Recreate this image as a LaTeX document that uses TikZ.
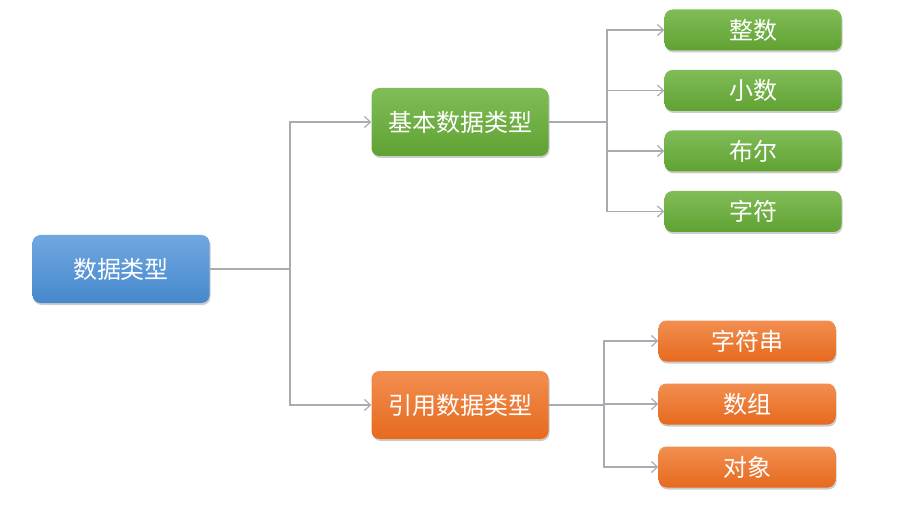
\documentclass[tikz,border=0pt]{standalone}
\usepackage{fontspec}
\newfontfamily\cjk{Noto Sans CJK SC}
\usepackage{tikz}
\usetikzlibrary{arrows.meta,shadows,positioning,calc}

\definecolor{bluetop}{RGB}{112,168,224}
\definecolor{bluebot}{RGB}{70,136,204}
\definecolor{greentop}{RGB}{128,188,88}
\definecolor{greenbot}{RGB}{96,162,50}
\definecolor{orangetop}{RGB}{242,142,80}
\definecolor{orangebot}{RGB}{230,106,30}
\definecolor{linegray}{RGB}{168,172,178}

\begin{document}
\begin{tikzpicture}[->,>={Straight Barb[length=6pt,width=11pt]},
x=1pt, y=1pt, node distance=60.5pt,
font=\cjk\fontsize{24}{28}\selectfont]

\tikzstyle{box}=[rectangle, rounded corners=8pt, text=white, draw=none,
drop shadow={shadow xshift=1pt, shadow yshift=-2pt, opacity=0.4}]
\tikzstyle{bigbox}=[box, minimum width=177pt, minimum height=68pt]
\tikzstyle{leafbox}=[box, minimum width=177pt, minimum height=41pt]
\tikzstyle{link}=[draw=linegray, line width=1.2pt]

\useasboundingbox (0,0) rectangle (898,-508);

%root
\node[bigbox, top color=bluetop, bottom color=bluebot]
(cdata) at (121,-269)
{数据类型};

\node[bigbox, top color=greentop, bottom color=greenbot]
(cbasic) at (460,-122)
{基本数据类型};

\node[bigbox, top color=orangetop, bottom color=orangebot]
(cref) at (460,-405)
{引用数据类型};

%basic types
\node[leafbox, top color=greentop, bottom color=greenbot]
(cint) at (753,-30)
{整数};

\node[leafbox, top color=greentop, bottom color=greenbot]
(cdec) [below of=cint]
{小数};

\node[leafbox, top color=greentop, bottom color=greenbot]
(cbool) [below of=cdec]
{布尔};

\node[leafbox, top color=greentop, bottom color=greenbot]
(cchar) [below of=cbool]
{字符};

%reference types
\node[leafbox, top color=orangetop, bottom color=orangebot]
(cstr) at (747,-341)
{字符串};

\node[leafbox, top color=orangetop, bottom color=orangebot]
(carr) [below of=cstr, node distance=63pt]
{数组};

\node[leafbox, top color=orangetop, bottom color=orangebot]
(cobj) [below of=carr, node distance=63pt]
{对象};

\coordinate (jroot) at (290,-269);
\coordinate (jbasic) at (607,-122);
\coordinate (jref) at (604,-405);

\draw[link,-] (cdata) -- (jroot);
\draw[link] (jroot) |- (cbasic);
\draw[link] (jroot) |- (cref);

\draw[link,-] (cbasic) -- (jbasic);
\draw[link] (jbasic) |- (cint);
\draw[link] (jbasic) |- (cdec);
\draw[link] (jbasic) |- (cbool);
\draw[link] (jbasic) |- (cchar);

\draw[link,-] (cref) -- (jref);
\draw[link] (jref) |- (cstr);
\draw[link] (jref) |- (carr);
\draw[link] (jref) |- (cobj);

\end{tikzpicture}
\end{document}
